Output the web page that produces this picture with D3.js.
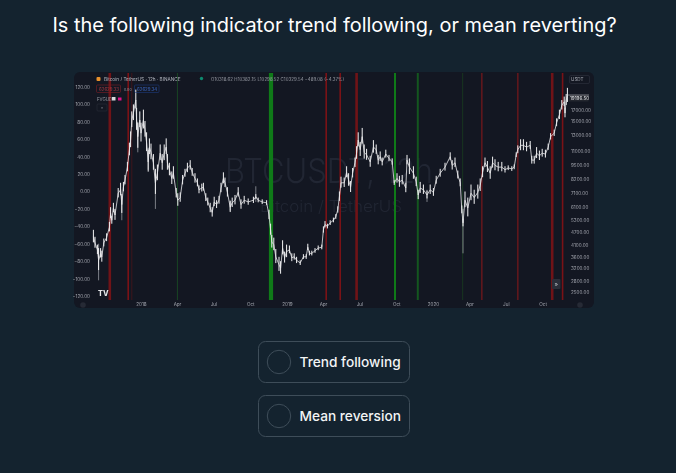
<!DOCTYPE html>
<html><head><meta charset="utf-8">
<script src="https://cdn.jsdelivr.net/npm/d3@7"></script>
<style>html,body{margin:0;padding:0;background:#14232f;overflow:hidden}svg{display:block}text{font-family:Inter,"Noto Sans",sans-serif}</style>
</head><body><svg id="c" width="676" height="473"></svg>
<script>
const question = "Is the following indicator trend following, or mean reverting?";
const options = ["Trend following", "Mean reversion"];
const legendTitle = "Bitcoin / TetherUS · 12h · BINANCE";
const legendOHLC = "O10318.62 H10382.15 L10298.52 C10329.54 −489.08 (−4.37%)";
const bidAsk = ["62629.33", "62629.34"];
const watermark = ["BTCUSDT, 12h", "Bitcoin / TetherUS"];
// days since 2018-01-01
const days = [-119,-115,-109,-106,-101,-98,-93,-86,-79,-76,-73,-69,-65,-57,-51,-48,-44,-40,-34,-29,-26,-23,-19,-13,-11,-8,-3,0,6,10,14,18,21,25,31,36,41,48,53,58,63,66,71,77,81,88,92,98,104,110,116,123,128,135,141,145,152,156,162,167,173,178,183,189,195,200,206,210,216,223,228,235,243,250,258,268,281,287,293,303,314,320,324,327,332,337,345,349,354,359,364,371,377,383,389,398,406,413,417,421,427,435,443,452,456,460,466,473,481,487,492,496,500,508,514,519,524,529,535,539,543,548,553,558,564,573,581,588,593,598,603,612,620,628,633,640,646,653,662,665,671,681,688,693,698,706,715,723,731,738,748,760,773,778,785,792,798,802,805,810,817,825,833,842,848,854,860,866,873,879,885,893,902,910,918,927,933,938,942,949,956,964,973,977,983,989,996,1003,1011,1018,1024,1033,1039,1046,1052,1058,1060,1063,1066];
// indicator-axis value at each day
const values = [-52,-59,-67,-79,-71,-75,-59,-53,-41,-25,-33,-19,-27,-2,2,-15,5,13,28,48,59,82,90,105,82,63,82,67,82,71,56,34,51,45,33,10,21,44,33,44,51,33,25,15,21,-2,-10,-7,13,21,27,30,22,15,10,2,4,5,-7,-12,-19,-24,-12,-15,-10,4,15,10,-1,-18,-13,-10,-1,-15,-10,-12,-10,-6,-10,-12,-13,-27,-44,-58,-61,-75,-84,-88,-65,-76,-69,-67,-76,-75,-79,-82,-75,-75,-64,-71,-71,-68,-65,-64,-44,-38,-40,-36,-33,-29,-21,-6,10,10,22,13,5,21,33,44,59,48,63,45,42,34,51,48,36,40,34,43,38,34,10,15,11,13,4,36,28,21,11,-4,4,2,-4,2,-1,13,21,28,40,30,33,19,10,-21,-36,-10,-19,-2,-7,-1,7,22,33,28,21,33,30,28,28,25,27,26,28,42,48,53,53,51,53,36,36,44,41,44,43,51,63,67,79,88,99,103,90,105,110];
// half-height of the price range around each value
const spreads = [8,7,6,14,6,7,5,5,6,7,5,6,7,6,8,12,6,6,6,8,10,10,10,12,14,16,10,12,12,10,12,14,10,10,10,16,10,10,10,10,10,10,8,8,8,6,8,6,6,5,6,6,5,6,5,5,5,5,5,5,6,6,6,5,5,6,7,6,6,7,6,6,6,6,5,4,4,3,3,3,3,6,7,8,8,9,9,8,9,7,8,5,5,4,4,3,3,3,4,3,3,3,3,3,4,4,3,3,3,3,4,6,7,6,7,8,7,6,6,8,9,9,10,9,7,7,8,6,6,6,5,5,4,4,3,6,7,6,6,6,10,8,6,6,7,6,5,6,5,5,5,5,5,6,6,5,5,5,5,10,12,10,9,9,8,7,6,7,8,7,7,6,6,4,3,3,3,3,5,7,7,6,5,5,5,7,6,5,5,4,4,4,5,6,6,6,6,7,9,9,8];
const wickDays = [-106,-48,-8,18,36,223,287,715,805];
const wickHigh = [-60,-5,80,50,20,-10,6,2,-20];
const wickLow = [-102,-33,45,25,-20,-22,-12,-12,-71];
const signalDays = [-78,-32,-23,91,325,463,498,539,635,692,804,852,942,1028,1054];
const signalKinds = ["redWide","red","redFaint","greenThin","greenBig","red","red","redWide","green","greenDark","greenFaint","redDim","redDim","redWide","red"];
const leftTicks = [120,100,80,60,40,20,0,-20,-40,-60,-80,-100,-120];
const rightTicks = [17000,15000,13000,11000,9500,8200,7100,6100,5300,4700,4100,3600,3200,2800,2500];
const lastPrice = 19196.5;
const timeTicks = [0,90,181,273,365,455,546,638,730,821,912,1004];
const timeLabels = ["2018","Apr","Jul","Oct","2019","Apr","Jul","Oct","2020","Apr","Jul","Oct"];

const kindStyle = {
  redWide:{c:"#701317",w:2.6}, red:{c:"#7a1216",w:1.6}, redFaint:{c:"#4a1519",w:0.8}, redDim:{c:"#5e171c",w:1.7},
  greenThin:{c:"#1b5a25",w:0.7}, greenBig:{c:"#0f7a18",w:4.2}, green:{c:"#0f7a18",w:2}, greenDark:{c:"#14561f",w:2}, greenFaint:{c:"#16301f",w:1.2}
};
const svg = d3.select("#c");
const x = d3.scaleLinear().domain([0,1004]).range([141,542.6]);
const yL = d3.scaleLinear().domain([-120,120]).range([296,87]);
const yR = d3.scaleLog().domain([2500,lastPrice]).range([292,98]);
const axisCol = "#a3a6af";

svg.append("text").attr("x",334.5).attr("y",31.5).attr("text-anchor","middle").attr("fill","#fff").attr("font-size",19.95).text(question);

const chart = svg.append("g").style("filter","blur(0.3px)");
chart.append("rect").attr("x",74).attr("y",72).attr("width",520).attr("height",236).attr("rx",6).attr("fill","#131722");

// watermark
chart.append("text").attr("x",225).attr("y",183).attr("fill","#212633").attr("font-size",34).attr("font-weight",300).attr("textLength",208).attr("lengthAdjust","spacingAndGlyphs").text(watermark[0]);
chart.append("text").attr("x",260).attr("y",212).attr("fill","#212633").attr("font-size",16).attr("font-weight",300).attr("textLength",142).attr("lengthAdjust","spacingAndGlyphs").text(watermark[1]);

// signals
chart.append("g").selectAll("line").data(signalDays).join("line")
  .attr("x1",d=>x(d)).attr("x2",d=>x(d)).attr("y1",73).attr("y2",300)
  .attr("stroke",(d,i)=>kindStyle[signalKinds[i]].c).attr("stroke-width",(d,i)=>kindStyle[signalKinds[i]].w);

// wicks
chart.append("g").selectAll("line").data(wickDays).join("line")
  .attr("x1",d=>x(d)).attr("x2",d=>x(d)).attr("y1",(d,i)=>yL(wickHigh[i])).attr("y2",(d,i)=>yL(wickLow[i]))
  .attr("stroke","#a9acb3").attr("stroke-width",0.7);
// price ranges
chart.append("g").selectAll("line").data(days).join("line")
  .attr("x1",d=>x(d)).attr("x2",d=>x(d))
  .attr("y1",(d,i)=>yL(values[i]+(spreads[i]||3))).attr("y2",(d,i)=>yL(values[i]-(spreads[i]||3)*0.8))
  .attr("stroke","#f4f4f5").attr("stroke-width",1);
// price
chart.append("path").datum(days.map((d,i)=>[d,values[i]]))
  .attr("d",d3.line().x(d=>x(d[0])).y(d=>yL(d[1])))
  .attr("fill","none").attr("stroke","#e8e9eb").attr("stroke-width",0.8).attr("stroke-linejoin","round");

// axes
const gl = chart.append("g").attr("transform","translate(90,0)").call(d3.axisLeft(yL).tickValues(leftTicks).tickFormat(d3.format(".2f")).tickSize(0).tickPadding(0));
const gr = chart.append("g").attr("transform","translate(571,0)").call(d3.axisRight(yR).tickValues(rightTicks).tickFormat(d3.format(".2f")).tickSize(0).tickPadding(0));
const gb = chart.append("g").attr("transform","translate(0,301)").call(d3.axisBottom(x).tickValues(timeTicks).tickFormat((d,i)=>timeLabels[i]).tickSize(0).tickPadding(2));
[gl,gr,gb].forEach(g=>{g.select(".domain").remove();g.selectAll("text").attr("fill",axisCol).attr("font-size",4.6).style("font-family","Inter,sans-serif");});

// last price label
chart.append("rect").attr("x",568.5).attr("y",95).attr("width",20).attr("height",6.5).attr("fill","#23262e");
chart.append("text").attr("x",570).attr("y",100).attr("fill","#e6e7ea").attr("font-size",4.6).text(d3.format(".2f")(lastPrice));
chart.append("line").attr("x1",567).attr("x2",589).attr("y1",95).attr("y2",95).attr("stroke","#d8d9dc").attr("stroke-width",0.5);
chart.append("rect").attr("x",569.5).attr("y",75.5).attr("width",20).attr("height",8).attr("rx",1.5).attr("fill","none").attr("stroke","#2f333f").attr("stroke-width",.6);
chart.append("text").attr("x",571).attr("y",81).attr("fill","#a3a6af").attr("font-size",4.6).text("USDT");

// legend
chart.append("rect").attr("x",96.5).attr("y",77).attr("width",4).attr("height",4).attr("rx",1).attr("fill","#e8912c");
chart.append("text").attr("x",104).attr("y",80.5).attr("fill","#b2b5be").attr("font-size",4.7).text(legendTitle);
chart.append("circle").attr("cx",201.5).attr("cy",78.5).attr("r",1.7).attr("fill","#0d8a6f");
chart.append("text").attr("x",211).attr("y",80.5).attr("fill","#9a9da6").attr("font-size",4.4).attr("textLength",133).text(legendOHLC);
chart.append("rect").attr("x",96.5).attr("y",85).attr("width",24).attr("height",7.5).attr("rx",1).attr("fill","none").attr("stroke","#7d1f26").attr("stroke-width",.6);
chart.append("text").attr("x",99).attr("y",90.5).attr("fill","#a83a42").attr("font-size",4.4).text(bidAsk[0]);
chart.append("text").attr("x",124).attr("y",90.5).attr("fill","#8d9099").attr("font-size",3.6).text("0.00");
chart.append("rect").attr("x",134.5).attr("y",85).attr("width",24.5).attr("height",7.5).attr("rx",1).attr("fill","none").attr("stroke","#1d3a80").attr("stroke-width",.6);
chart.append("text").attr("x",137).attr("y",90.5).attr("fill","#3c68c4").attr("font-size",4.4).text(bidAsk[1]);
chart.append("text").attr("x",97).attr("y",100.5).attr("fill","#9a9da6").attr("font-size",4.4).text("FVGUD");
chart.append("rect").attr("x",112).attr("y",97).attr("width",3.5).attr("height",3.5).attr("fill","#d8d8dc");
chart.append("rect").attr("x",118).attr("y",97.5).attr("width",3.5).attr("height",3).attr("fill","#e0128a");
chart.append("rect").attr("x",97).attr("y",104).attr("width",10).attr("height",7).attr("rx",1).attr("fill","none").attr("stroke","#2a2e39").attr("stroke-width",.6);
chart.append("text").attr("x",102).attr("y",109.5).attr("text-anchor","middle").attr("fill","#a3a6af").attr("font-size",4.5).text("^");

// TV logo
chart.append("text").attr("x",98).attr("y",295.8).attr("fill","#e4e5e8").attr("font-size",7.5).attr("font-weight",800).attr("textLength",10.5).attr("lengthAdjust","spacingAndGlyphs").text("TV");
// scroll button
chart.append("rect").attr("x",552).attr("y",279).attr("width",8.5).attr("height",10).attr("rx",1).attr("fill","#2a2e39");
chart.append("text").attr("x",556.2).attr("y",286).attr("text-anchor","middle").attr("fill","#c8c9cf").attr("font-size",6).text("»");
[[83,"#262a35"],[580,"#262a35"]].forEach(b=>chart.append("circle").attr("cx",b[0]).attr("cy",305).attr("r",2.8).attr("fill",b[1]));

// options
const btn = svg.append("g").selectAll("g").data(options).join("g").attr("transform",(d,i)=>`translate(258.5,${341.5+i*54})`);
btn.append("rect").attr("width",151).attr("height",41).attr("rx",7).attr("fill","none").attr("stroke","#3e4d59");
btn.append("circle").attr("cx",20.5).attr("cy",20.5).attr("r",11.7).attr("fill","none").attr("stroke","#3e4d59");
btn.append("text").attr("x",41).attr("y",25.5).attr("fill","#f2f4f5").attr("font-size",13.7).attr("font-weight",500).text(d=>d);
</script></body></html>
